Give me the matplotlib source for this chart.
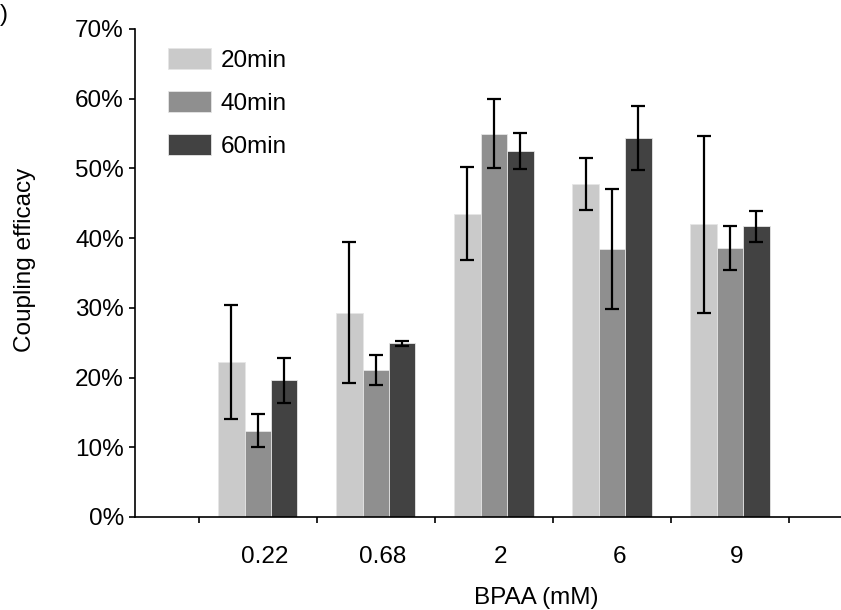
import numpy as np
import matplotlib
matplotlib.use("Agg")
import matplotlib.pyplot as plt

plt.rcParams['font.family'] = ['Liberation Sans', 'DejaVu Sans']

categories = ["0.22", "0.68", "2", "6", "9"]
series_names = ["20min", "40min", "60min"]
means_20 = [22.2, 29.3, 43.5, 47.8, 42.0]
means_40 = [12.4, 21.1, 55.0, 38.4, 38.6]
means_60 = [19.6, 24.9, 52.5, 54.3, 41.7]
err_20 = [8.2, 10.1, 6.7, 3.7, 12.7]
err_40 = [2.3, 2.1, 4.9, 8.6, 3.2]
err_60 = [3.2, 0.4, 2.6, 4.6, 2.2]
colors = ["#cacaca", "#8f8f8f", "#424242"]

FS = 17.5

fig = plt.figure(figsize=(8.41, 6.10), dpi=100)
ax = fig.add_axes([0.1605, 0.1525, 0.8395, 0.8])

x = np.arange(len(categories))
width = 0.224
for k, (m, e) in enumerate(zip([means_20, means_40, means_60], [err_20, err_40, err_60])):
    ax.bar(x + (k - 1) * width, m, width, color=colors[k], edgecolor='#e6e6e6',
           linewidth=0.6, label=series_names[k], zorder=2)
    ax.errorbar(x + (k - 1) * width, m, yerr=e, fmt='none', ecolor='black',
                elinewidth=1.6, capsize=5, capthick=1.6, zorder=3)

ax.set_ylim(0, 70)
ax.set_xlim(-1.04, 4.94)
ax.set_yticks(np.arange(0, 71, 10))
ax.set_yticklabels([f"{v}%" for v in range(0, 71, 10)], fontsize=FS)
ax.set_xticks(np.arange(-0.5, 5.0, 1.0))
ax.set_xticklabels([])
ax.set_xticks(x + 0.06, minor=True)
ax.set_xticklabels(categories, minor=True, fontsize=FS)
ax.tick_params(axis='x', which='minor', length=0, pad=21)
ax.tick_params(axis='x', which='major', direction='out', length=4, width=1.2)
ax.tick_params(axis='y', direction='out', length=4, width=1.2, pad=4)

for s in ['top', 'right']:
    ax.spines[s].set_visible(False)
for s in ['left', 'bottom']:
    ax.spines[s].set_linewidth(1.2)

ax.set_ylabel("Coupling efficacy", fontsize=FS)
ax.yaxis.set_label_coords(-0.14, 0.527)
ax.set_xlabel("BPAA (mM)", fontsize=FS)
ax.xaxis.set_label_coords(0.569, -0.143)

ax.legend(loc='upper left', bbox_to_anchor=(0.033, 0.98), frameon=False, fontsize=FS,
          handlelength=1.75, handleheight=0.95, labelspacing=0.78, handletextpad=0.42,
          borderaxespad=0.0)

fig.text(0.0, 0.975, ")", ha='left', va='center', fontsize=FS)

fig.savefig("out.png", dpi=100)
